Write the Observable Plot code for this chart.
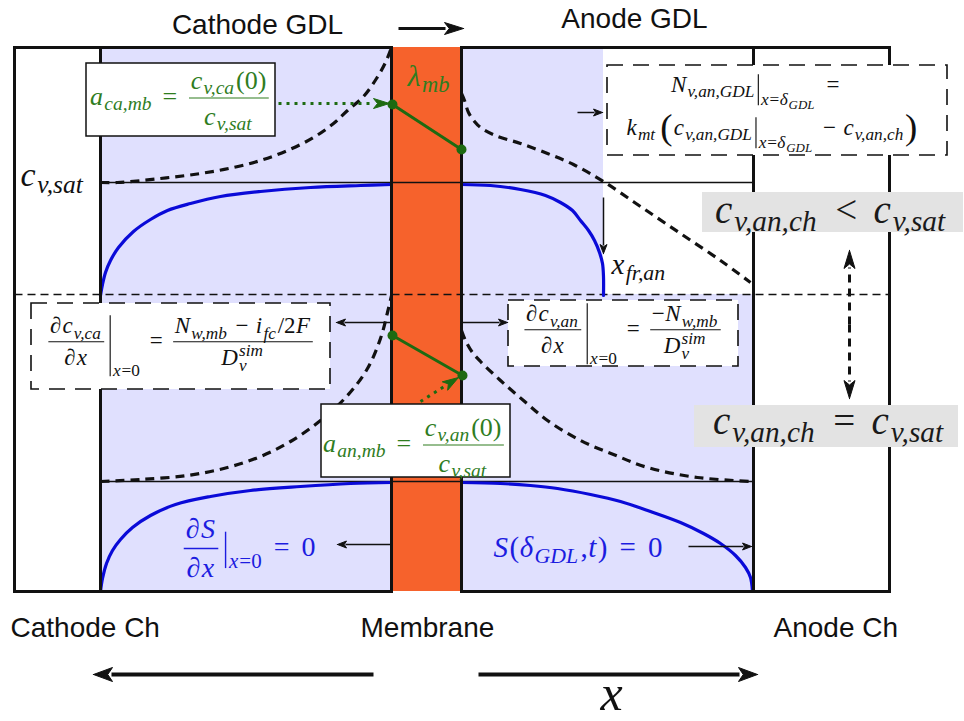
<!DOCTYPE html>
<html><head><meta charset="utf-8">
<script src="https://cdn.jsdelivr.net/npm/d3@7"></script>
<script src="https://cdn.jsdelivr.net/npm/@observablehq/plot@0.6"></script>
<style>html,body{margin:0;padding:0;background:#fff}#chart svg{display:block}</style>
</head><body><div id="chart"></div>
<script>
// ================= DATA (diagram coordinates) =================
const wallX = [14, 100, 391, 461, 753, 889];      // channel | GDL | membrane | membrane | GDL | channel
const rowY = [47, 294, 591];                      // top, mid divider, bottom
const satY = [182, 481];                          // c_v,sat levels (upper / lower panel)
const xFrAn = 603;                                // liquid front in anode GDL (upper panel)

const cvCaTop = [[100,182],[117,182],[160,178],[200,173],[233,167],[260,160],[287,150],[313,137],[333,123],[347,110],[363,96],[376,78],[385,62],[391,47]];
const cvAnTop = [[461,93],[464,100],[468,112],[474,121],[480,127],[495,135],[520,143],[547,153],[573,164],[603,181],[640,206],[680,233],[720,260],[750,282]];
const cvCaBot = [[100,481],[140,479],[187,475],[227,467],[260,456],[290,441],[320,420],[347,395],[367,368],[380,338],[387,312],[391,295]];
const cvAnBot = [[461,330],[465,340],[472,352],[480,361],[500,380],[523,400],[547,420],[580,440],[613,454],[647,467],[697,477],[753,481]];
const sCaTop = [[100,295],[102,284],[105,272],[110,260],[118,247],[133,231],[150,219],[167,210],[190,203],[220,196],[260,191],[310,187],[360,185],[391,184]];
const sAnTop = [[461,184],[490,185],[520,189],[545,195],[560,202],[572,210],[580,220],[588,230],[594,240],[599,252],[602,263],[603,276],[603,295]];
const sCaBot = [[100,591],[102,578],[106,563],[112,550],[120,539],[132,527],[150,515],[175,504],[210,496],[250,490],[300,486],[350,483],[391,482]];
const sAnBot = [[461,482],[500,483],[530,485],[557,488],[590,494],[620,501],[650,511],[680,522],[703,533],[720,543],[735,555],[745,567],[750,577],[752,591]];
const lambdaTop = [[392,104],[461,149]];
const lambdaBot = [[392,335],[462,375]];

const sansLabels = [
  {text: "Cathode GDL", x: 257, y: 33, anchor: "middle"},
  {text: "Anode GDL", x: 634, y: 27, anchor: "middle"},
  {text: "Cathode Ch", x: 10, y: 636, anchor: "start"},
  {text: "Membrane", x: 360, y: 636, anchor: "start"},
  {text: "Anode Ch", x: 773, y: 636, anchor: "start"}
];

// ================= STYLE =================
const C = {lav: "#e0e0fe", orange: "#f6622c", blue: "#0a0ad8", blueText: "#1c1ce0",
           green: "#1d6a11", greenText: "#2f7d1f", gray: "#e3e3e3", ink: "#111"};
const MF = '"Liberation Serif", "DejaVu Serif", "Times New Roman", serif';
const SUBK = 0.75;

// ================= MATH LAYOUT HELPERS =================
const ctx = document.createElement("canvas").getContext("2d");
function measure(s, size, it) { ctx.font = `${it ? "italic " : ""}${size}px ${MF}`; return ctx.measureText(s).width; }
const I = s => ({t: "txt", s, it: true});
const U = s => ({t: "txt", s, it: false});
const Sub = (...c) => ({t: "sub", c});
const SubSup = (a, b) => ({t: "subsup", a, b});
const Frac = (n, d) => ({t: "frac", n, d});
const Sp = em => ({t: "sp", em});
const BarSub = (top, bot, ...c) => ({t: "barsub", top, bot, c});
const Big = (s, k) => ({t: "big", s, k});

function lay(nodes, size) {
  let x = 0; const items = [], rules = [];
  function push(r, ox, oy) {
    r.items.forEach(d => items.push({...d, dx: d.dx + ox, dy: d.dy + oy}));
    r.rules.forEach(q => rules.push({...q, x1: q.x1 + ox, x2: q.x2 + ox, y1: q.y1 + oy, y2: q.y2 + oy}));
  }
  for (const n of nodes) {
    if (n.t === "txt") {
      items.push({dx: x, dy: 0, s: n.s, size, it: n.it});
      x += measure(n.s, size, n.it) + (n.it ? size * 0.05 : size * 0.02);
    } else if (n.t === "sp") {
      x += n.em * size;
    } else if (n.t === "sub") {
      const r = lay(n.c, Math.max(size * SUBK, 9));
      push(r, x, size * 0.22); x += r.w + size * 0.04;
    } else if (n.t === "subsup") {
      const s2 = Math.max(size * SUBK, 9);
      const a = lay(n.a, s2), b = lay(n.b, s2);
      push(a, x, size * 0.25); push(b, x, -size * 0.38);
      x += Math.max(a.w, b.w) + size * 0.04;
    } else if (n.t === "frac") {
      const a = lay(n.n, size), b = lay(n.d, size);
      const w = Math.max(a.w, b.w) + size * 0.3;
      const ry = -size * 0.25;
      push(a, x + (w - a.w) / 2, ry - size * 0.36);
      push(b, x + (w - b.w) / 2, ry + size * 1.02);
      rules.push({x1: x + size * 0.08, x2: x + w - size * 0.08, y1: ry, y2: ry, sw: Math.max(1, size * 0.045)});
      x += w + size * 0.08;
    } else if (n.t === "barsub") {
      x += size * 0.1;
      rules.push({x1: x, x2: x, y1: -n.top * size, y2: n.bot * size, sw: Math.max(1, size * 0.05)});
      x += size * 0.12;
      const r = lay(n.c, Math.max(size * SUBK, 9));
      push(r, x, n.bot * size); x += r.w + size * 0.12;
    } else if (n.t === "big") {
      const s2 = size * n.k;
      items.push({dx: x, dy: size * (n.k - 1) * 0.3, s: n.s, size: s2, it: false});
      x += measure(n.s, s2, false) + size * 0.05;
    }
  }
  return {w: x, items, rules};
}
function mathMarks(nodes, {x, y, size, anchor = "start", color = C.ink}) {
  const r = lay(nodes, size);
  const x0 = anchor === "middle" ? x - r.w / 2 : x;
  const pts = r.items.map(d => ({...d, X: x0 + d.dx, Y: y + d.dy}));
  const common = {x: "X", y: "Y", text: "s", fontSize: d => d.size, fontFamily: MF, textAnchor: "start", lineAnchor: "bottom", fill: color};
  return [
    Plot.text(pts.filter(d => d.it), {...common, fontStyle: "italic"}),
    Plot.text(pts.filter(d => !d.it), {...common, fontStyle: "normal"}),
    Plot.link(r.rules.map(q => ({x1: x0 + q.x1, x2: x0 + q.x2, y1: y + q.y1, y2: y + q.y2, sw: q.sw})),
      {x1: "x1", y1: "y1", x2: "x2", y2: "y2", stroke: color, strokeWidth: d => d.sw})
  ];
}

// ================= ARROW HELPERS =================
function arrowMarks(list, {color = C.ink, width = 1.5, head = 9, headW = 7, dash = null}) {
  const shafts = [], heads = [];
  list.forEach((a, i) => {
    const dx = a[2] - a[0], dy = a[3] - a[1], L = Math.hypot(dx, dy), ux = dx / L, uy = dy / L;
    const bx = a[2] - ux * head, by = a[3] - uy * head;
    shafts.push({x1: a[0], y1: a[1], x2: bx + ux * 1, y2: by + uy * 1});
    heads.push({id: i, x: a[2], y: a[3]}, {id: i, x: bx - uy * headW / 2, y: by + ux * headW / 2},
               {id: i, x: bx + ux * head * 0.25, y: by + uy * head * 0.25}, {id: i, x: bx + uy * headW / 2, y: by - ux * headW / 2}, {id: i, x: a[2], y: a[3]});
  });
  const linkOpts = {x1: "x1", y1: "y1", x2: "x2", y2: "y2", stroke: color, strokeWidth: width};
  if (dash) linkOpts.strokeDasharray = dash;
  return [Plot.link(shafts, linkOpts),
          Plot.line(heads, {x: "x", y: "y", z: "id", fill: color, stroke: color, strokeWidth: 1, curve: "linear-closed"})];
}

// ================= MARKS =================
const P = pts => pts.map(([x, y]) => ({x, y}));
const [xChCa, xGdlCa, xMbCa, xMbAn, xGdlAn, xChAn] = wallX;
const [yTop, yMid, yBot] = rowY;

const bgRects = [
  {x1: xGdlCa, x2: xMbCa, y1: yTop, y2: yBot, fill: C.lav},
  {x1: xMbAn, x2: xFrAn, y1: yTop, y2: yMid, fill: C.lav},
  {x1: xMbAn, x2: xGdlAn, y1: yMid, y2: yBot, fill: C.lav},
  {x1: xMbCa, x2: xMbAn, y1: yTop, y2: yBot, fill: C.orange}
];
const frame = [
  ...wallX.map(x => ({x1: x, x2: x, y1: yTop, y2: yBot})),
  {x1: xChCa, x2: xMbCa, y1: yTop, y2: yTop}, {x1: xMbAn, x2: xChAn, y1: yTop, y2: yTop},
  {x1: xChCa, x2: xMbCa, y1: yBot, y2: yBot}, {x1: xMbAn, x2: xChAn, y1: yBot, y2: yBot}
];
const satLines = satY.map(y => ({x1: xGdlCa, x2: xGdlAn, y1: y, y2: y}));
const midLine = [{x1: xChCa, x2: xChAn, y1: yMid, y2: yMid}];

const whiteBoxes = [{x1: 86, x2: 275, y1: 63, y2: 136}, {x1: 321, x2: 510, y1: 404, y2: 477}];
const dashedBoxes = [{x1: 607, x2: 947, y1: 65, y2: 155}, {x1: 31, x2: 330, y1: 303, y2: 389}, {x1: 508, x2: 738, y1: 300, y2: 366}];
const grayBoxes = [{x1: 702, x2: 963, y1: 192, y2: 232}, {x1: 694, x2: 958, y1: 405, y2: 447}];
const rectOpts = {x1: "x1", x2: "x2", y1: "y1", y2: "y2"};
const curve = (pts, opts) => Plot.line(P(pts), {x: "x", y: "y", curve: "catmull-rom", ...opts});

const marks = [
  Plot.rect(bgRects, {...rectOpts, fill: d => d.fill}),
  Plot.link(satLines, {x1: "x1", y1: "y1", x2: "x2", y2: "y2", stroke: C.ink, strokeWidth: 1.4}),
  Plot.link(midLine, {x1: "x1", y1: "y1", x2: "x2", y2: "y2", stroke: C.ink, strokeWidth: 1.4, strokeDasharray: "8,5"}),
  ...[sCaTop, sAnTop, sCaBot, sAnBot].map(c => curve(c, {stroke: C.blue, strokeWidth: 3.2})),
  ...[cvCaTop, cvAnTop, cvCaBot, cvAnBot].map(c => curve(c, {stroke: C.ink, strokeWidth: 3.2, strokeDasharray: "9,6", strokeLinecap: "butt"})),
  Plot.link(frame, {x1: "x1", y1: "y1", x2: "x2", y2: "y2", stroke: C.ink, strokeWidth: 3, strokeLinecap: "square"}),
  Plot.rect(whiteBoxes, {...rectOpts, fill: "white", stroke: C.ink, strokeWidth: 1.5}),
  Plot.rect(dashedBoxes, {...rectOpts, fill: "white", stroke: C.ink, strokeWidth: 1.6, strokeDasharray: "16,10"}),
  Plot.rect(grayBoxes, {...rectOpts, fill: C.gray}),
  // membrane water content profiles
  ...[lambdaTop, lambdaBot].flatMap(l => [
    Plot.line(P(l), {x: "x", y: "y", stroke: C.green, strokeWidth: 3}),
    Plot.dot(P(l), {x: "x", y: "y", r: 5, fill: C.green})
  ]),
  // green dotted arrows (activity boxes -> membrane)
  ...arrowMarks([[278, 103, 389, 103], [420, 401, 458, 377]], {color: C.green, width: 3, head: 16, headW: 10, dash: "3,5"}),
  // thin arrows
  ...arrowMarks([[390, 322, 336, 322], [462, 322, 507, 322], [390, 544, 337, 544], [688, 546, 751, 546], [577, 112, 602, 112], [603, 197, 603, 253]],
                {width: 1.5, head: 9, headW: 7}),
  // thick arrows
  ...arrowMarks([[398, 28, 463, 28]], {width: 3, head: 19, headW: 12}),
  ...arrowMarks([[373, 674, 93, 674], [478, 674, 757, 674]], {width: 4, head: 19, headW: 14}),
  // dashed double arrow between the two channel states
  ...arrowMarks([[849, 324, 849, 250], [849, 324, 849, 398]], {width: 3, head: 18, headW: 11, dash: "8,6"}),
  // sans labels
  Plot.text(sansLabels.filter(d => d.anchor === "middle"), {x: "x", y: "y", text: "text", fontFamily: '"Liberation Sans", Arial, sans-serif', fontSize: 28, textAnchor: "middle", lineAnchor: "bottom", fill: C.ink}),
  Plot.text(sansLabels.filter(d => d.anchor === "start"), {x: "x", y: "y", text: "text", fontFamily: '"Liberation Sans", Arial, sans-serif', fontSize: 28, textAnchor: "start", lineAnchor: "bottom", fill: C.ink}),
  // math labels
  ...mathMarks([I("c"), Sub(I("v,sat"))], {x: 20, y: 185, size: 34}),
  ...mathMarks([I("λ"), Sub(I("mb"))], {x: 407, y: 85, size: 30, color: C.greenText}),
  ...mathMarks([I("x"), Sub(I("fr,an"))], {x: 611, y: 273, size: 29}),
  ...mathMarks([I("a"), Sub(I("ca,mb")), Sp(0.35), U("="), Sp(0.35),
               Frac([I("c"), Sub(I("v,ca")), U("(0)")], [I("c"), Sub(I("v,sat"))])], {x: 181, y: 104, size: 26, anchor: "middle", color: C.greenText}),
  ...mathMarks([I("a"), Sub(I("an,mb")), Sp(0.35), U("="), Sp(0.35),
               Frac([I("c"), Sub(I("v,an")), U("(0)")], [I("c"), Sub(I("v,sat"))])], {x: 415, y: 451, size: 26, anchor: "middle", color: C.greenText}),
  ...mathMarks([I("N"), Sub(I("v,an,GDL")), BarSub(0.75, 0.6, I("x"), U("="), I("δ"), Sub(I("GDL"))), Sp(0.35), U("=")],
               {x: 755, y: 91, size: 23, anchor: "middle"}),
  ...mathMarks([I("k"), Sub(I("mt")), Sp(0.15), Big("(", 1.6), I("c"), Sub(I("v,an,GDL")), BarSub(0.75, 0.6, I("x"), U("="), I("δ"), Sub(I("GDL"))),
               Sp(0.3), U("−"), Sp(0.3), I("c"), Sub(I("v,an,ch")), Big(")", 1.6)], {x: 772, y: 134, size: 23, anchor: "middle"}),
  ...mathMarks([Frac([I("∂"), I("c"), Sub(I("v,ca"))], [I("∂"), I("x")]), BarSub(1.4, 1.25, I("x"), U("=0")), Sp(0.3), U("="), Sp(0.35),
               Frac([I("N"), Sub(I("w,mb")), Sp(0.3), U("−"), Sp(0.3), I("i"), Sub(I("fc")), U("/2"), I("F")], [I("D"), SubSup([I("v")], [I("sim")])])],
               {x: 181, y: 347, size: 23, anchor: "middle"}),
  ...mathMarks([Frac([I("∂"), I("c"), Sub(I("v,an"))], [I("∂"), I("x")]), BarSub(1.4, 1.25, I("x"), U("=0")), Sp(0.3), U("="), Sp(0.35),
               Frac([U("−"), I("N"), Sub(I("w,mb"))], [I("D"), SubSup([I("v")], [I("sim")])])],
               {x: 623, y: 335, size: 23, anchor: "middle"}),
  ...mathMarks([I("c"), Sub(I("v,an,ch")), Sp(0.4), U("<"), Sp(0.4), I("c"), Sub(I("v,sat"))], {x: 831, y: 222, size: 39, anchor: "middle", color: "#1a1a1a"}),
  ...mathMarks([I("c"), Sub(I("v,an,ch")), Sp(0.4), U("="), Sp(0.4), I("c"), Sub(I("v,sat"))], {x: 829, y: 433, size: 39, anchor: "middle", color: "#1a1a1a"}),
  ...mathMarks([Frac([I("∂"), I("S")], [I("∂"), I("x")]), BarSub(0.85, 0.45, I("x"), U("=0")), Sp(0.3), U("="), Sp(0.4), U("0")],
               {x: 181, y: 555, size: 28, color: C.blueText}),
  ...mathMarks([I("S"), U("("), I("δ"), Sub(I("GDL")), U(","), I("t"), U(")"), Sp(0.4), U("="), Sp(0.4), U("0")],
               {x: 493, y: 556, size: 29, color: C.blueText}),
  ...mathMarks([I("x")], {x: 600, y: 709, size: 50})
];

const chart = Plot.plot({
  width: 964, height: 721, margin: 0,
  x: {domain: [0, 964], range: [0, 964], axis: null},
  y: {domain: [0, 721], range: [0, 721], axis: null},
  style: {background: "white", overflow: "visible"},
  marks
});
document.getElementById("chart").appendChild(chart);
</script>
</body></html>
